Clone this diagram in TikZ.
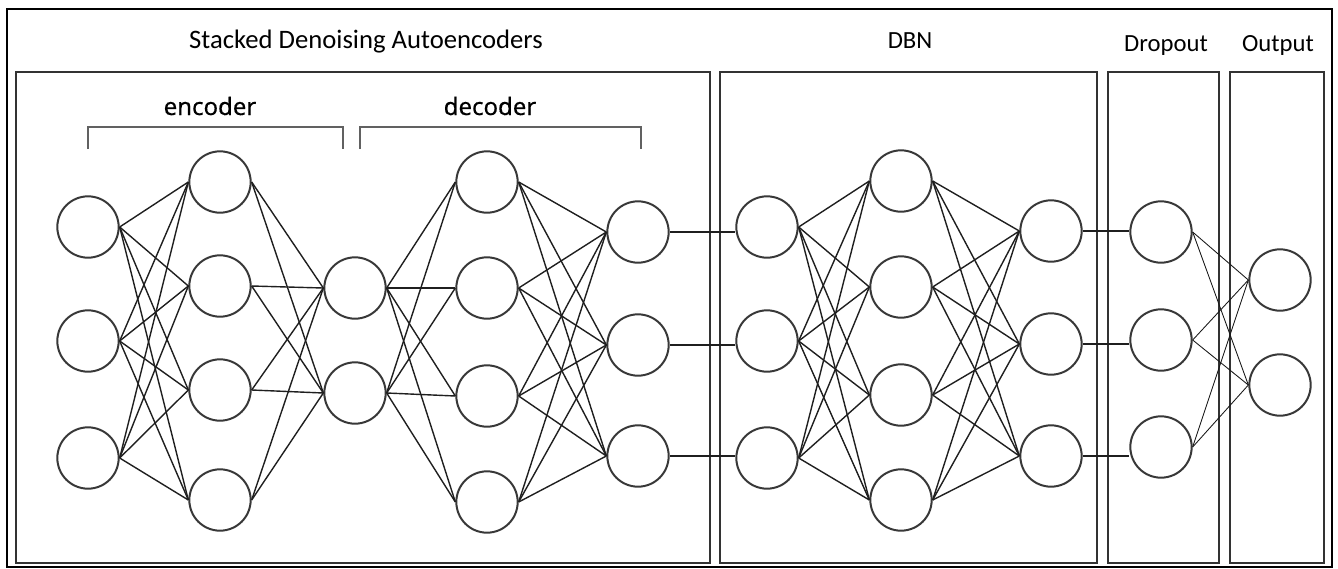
\documentclass[tikz,border=0pt]{standalone}
\usepackage{fontspec}
\setmainfont{Carlito}
\newfontfamily\partfont[FakeBold=0.4]{Noto Sans}
\begin{document}
\begin{tikzpicture}[x=0.75pt,y=-0.75pt,
  neuron/.style={circle,draw=black!78,line width=1.5pt,minimum size=46pt,inner sep=0pt},
  link/.style={draw=black!88,line width=1.05pt},
  thinlink/.style={draw=black!90,line width=0.65pt},
  panel/.style={draw=black!80,line width=1.3pt},
  frame/.style={draw=black,line width=1.6pt},
  bracket/.style={draw=black!62,line width=1.4pt},
  heading/.style={font=\fontsize{18.5}{22}\selectfont,anchor=base,inner sep=0pt},
  partlabel/.style={font=\partfont\fontsize{18}{21}\selectfont,anchor=base,inner sep=0pt}]
\useasboundingbox (0,0) rectangle (1338,568);

% outer frame and the four panels
\draw[frame] (7,9) rectangle (1332,567);
\draw[panel] (16,72) rectangle (710,563);
\draw[panel] (720,72) rectangle (1097,563);
\draw[panel] (1108,72) rectangle (1219,563);
\draw[panel] (1230,72) rectangle (1324,563);

% panel headings
\node[heading,font=\fontsize{20}{24}\selectfont] (tsda) at (366,48) {Stacked Denoising Autoencoders};
\node[heading] (tdbn) at (910,48) {DBN};
\node[heading] (tdrop) at (1166,51) {Dropout};
\node[heading] (tout) at (1278,51) {Output};

% encoder / decoder brackets
\node[partlabel] (tenc) at (210,115) {encoder};
\node[partlabel] (tdec) at (490,115) {decoder};
\draw[bracket] (88,149) -- (88,127) -- (343,127) -- (343,149);
\draw[bracket] (360,149) -- (360,127) -- (641,127) -- (641,149);

% stacked denoising autoencoder layers
\foreach \y [count=\i] in {227,341,458} \node[neuron] (a\i) at (88,\y) {};
\foreach \y [count=\i] in {182,286,390,500} \node[neuron] (b\i) at (220,\y) {};
\foreach \y [count=\i] in {288,393} \node[neuron] (c\i) at (355,\y) {};
\foreach \y [count=\i] in {182,288,396,502} \node[neuron] (d\i) at (487,\y) {};
\foreach \y [count=\i] in {232,345,456} \node[neuron] (e\i) at (638,\y) {};

% DBN layers
\foreach \y [count=\i] in {227,341,458} \node[neuron] (f\i) at (767,\y) {};
\foreach \y [count=\i] in {181,287,395,500} \node[neuron] (g\i) at (901,\y) {};
\foreach \y [count=\i] in {231,344,456} \node[neuron] (h\i) at (1051,\y) {};

% dropout and output layers
\foreach \y [count=\i] in {232,340,447} \node[neuron] (p\i) at (1161,\y) {};
\foreach \y [count=\i] in {280,385} \node[neuron] (q\i) at (1280,\y) {};

% fully connected links
\foreach \i in {1,2,3} \foreach \j in {1,...,4} \draw[link] (a\i.east) -- (b\j.west);
\foreach \i in {1,...,4} \foreach \j in {1,2} \draw[link] (b\i.east) -- (c\j.west);
\foreach \i in {1,2} \foreach \j in {1,...,4} \draw[link] (c\i.east) -- (d\j.west);
\foreach \i in {1,...,4} \foreach \j in {1,2,3} \draw[link] (d\i.east) -- (e\j.west);
\foreach \i in {1,2,3} \foreach \j in {1,...,4} \draw[link] (f\i.east) -- (g\j.west);
\foreach \i in {1,...,4} \foreach \j in {1,2,3} \draw[link] (g\i.east) -- (h\j.west);
\foreach \i in {1,2,3} \foreach \j in {1,2} \draw[thinlink] (p\i.east) -- (q\j.west);

% one-to-one links between blocks
\foreach \i in {1,2,3} \draw[link] (e\i.east) -- (e\i.east -| f\i.west);
\foreach \i in {1,2,3} \draw[link] (h\i.east) -- (h\i.east -| p\i.west);
\end{tikzpicture}
\end{document}
